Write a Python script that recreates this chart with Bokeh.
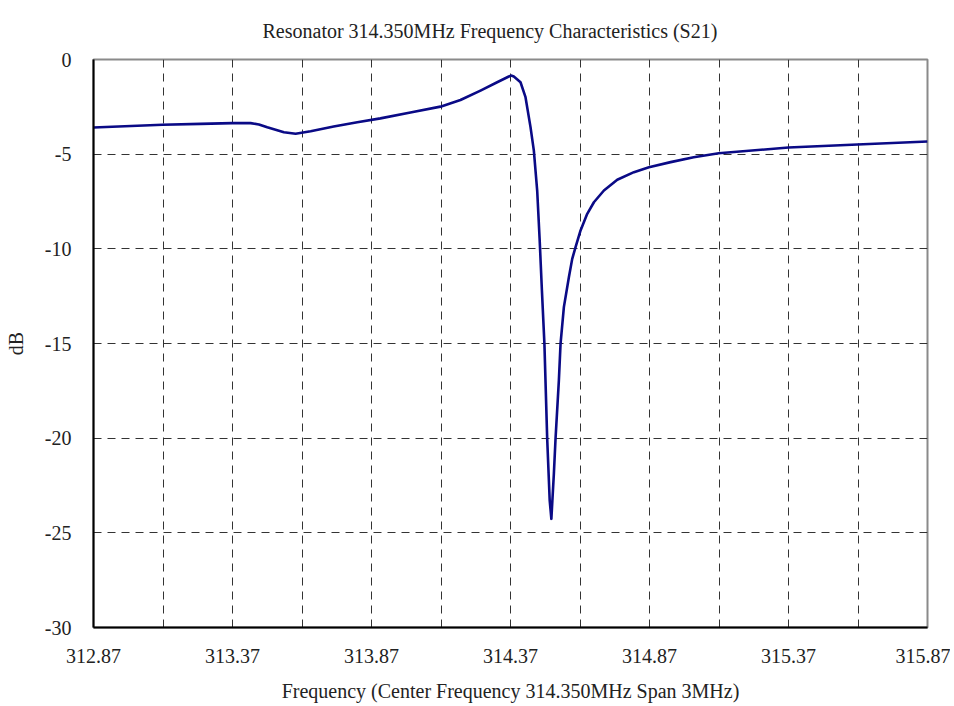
from bokeh.plotting import figure
from bokeh.models import FixedTicker, NumeralTickFormatter, Range1d
from bokeh.embed import file_html
from bokeh.resources import INLINE

# Data
freq_mhz = [312.870, 313.118, 313.255, 313.369, 313.435, 313.465, 313.495, 313.555, 313.597,
            313.651, 313.734, 313.819, 313.902, 314.010, 314.118, 314.190, 314.262,
            314.322, 314.364, 314.372, 314.382, 314.406, 314.424, 314.442, 314.454,
            314.466, 314.475, 314.483, 314.492, 314.502, 314.511, 314.517, 314.526,
            314.532, 314.544, 314.550, 314.562, 314.580, 314.592, 314.604, 314.622,
            314.646, 314.670, 314.706, 314.754, 314.814, 314.868, 314.946, 315.029,
            315.119, 315.370, 315.618, 315.870]
s21_db = [-3.59, -3.45, -3.40, -3.36, -3.36, -3.43, -3.58, -3.84, -3.92,
          -3.79, -3.54, -3.31, -3.11, -2.80, -2.49, -2.14, -1.64,
          -1.20, -0.90, -0.85, -0.90, -1.20, -1.99, -3.57, -4.81,
          -6.92, -9.56, -12.2, -15.02, -20.03, -23.29, -24.26, -21.88,
          -20.03, -16.95, -15.02, -13.08, -11.50, -10.53, -9.91, -9.03,
          -8.15, -7.54, -6.92, -6.35, -5.95, -5.69, -5.42, -5.16,
          -4.95, -4.65, -4.49, -4.33]

x_major_ticks = [312.87, 313.37, 313.87, 314.37, 314.87, 315.37, 315.87]
x_minor_ticks = [313.12, 313.62, 314.12, 314.62, 315.12, 315.62]
y_ticks = [-30, -25, -20, -15, -10, -5, 0]
y_labels = {v: str(v) for v in y_ticks}

FONT = "Liberation Serif"
FS = "20px"

p = figure(width=950, height=704, output_backend="svg", toolbar_location=None,
           title="Resonator 314.350MHz Frequency Characteristics (S21)",
           x_range=Range1d(312.87, 315.87), y_range=Range1d(-30, 0),
           min_border_left=93, min_border_right=23, min_border_top=59, min_border_bottom=77)

p.title.align = "left"
p.title.offset = 169
p.title.standoff = 35
p.title.text_font = FONT
p.title.text_font_size = FS
p.title.text_font_style = "normal"
p.title.text_color = "#222222"

p.line(freq_mhz, s21_db, line_color="#0a0a86", line_width=2.6, line_join="round")

p.xaxis.ticker = FixedTicker(ticks=x_major_ticks, minor_ticks=x_minor_ticks)
p.xaxis.formatter = NumeralTickFormatter(format="0.00")
p.yaxis.ticker = FixedTicker(ticks=y_ticks)
p.yaxis.major_label_overrides = y_labels

for ax in (p.xaxis, p.yaxis):
    ax.major_tick_line_color = None
    ax.minor_tick_line_color = None
    ax.major_tick_out = 0
    ax.major_tick_in = 0
    ax.minor_tick_out = 0
    ax.minor_tick_in = 0
    ax.axis_line_color = "black"
    ax.axis_line_width = 2
    ax.major_label_text_font = FONT
    ax.major_label_text_font_size = FS
    ax.major_label_text_color = "#222222"
    ax.axis_label_text_font = FONT
    ax.axis_label_text_font_size = FS
    ax.axis_label_text_font_style = "normal"
    ax.axis_label_text_color = "#222222"

p.xaxis.axis_label = "Frequency (Center Frequency 314.350MHz Span 3MHz)"
p.yaxis.axis_label = "dB"
p.xaxis.major_label_standoff = 21
p.xaxis.axis_label_standoff = 14
p.yaxis.major_label_standoff = 22
p.yaxis.axis_label_standoff = 15

p.xgrid.grid_line_color = "#333333"
p.xgrid.grid_line_dash = "8 6"
p.xgrid.grid_line_width = 1
p.xgrid.minor_grid_line_color = "#333333"
p.xgrid.minor_grid_line_dash = "8 6"
p.ygrid.grid_line_color = "#333333"
p.ygrid.grid_line_dash = "8 6"

p.outline_line_color = "#8a8a8a"
p.outline_line_width = 2
p.background_fill_color = "white"
p.border_fill_color = "white"

open("out.html", "w").write(file_html(p, INLINE))
